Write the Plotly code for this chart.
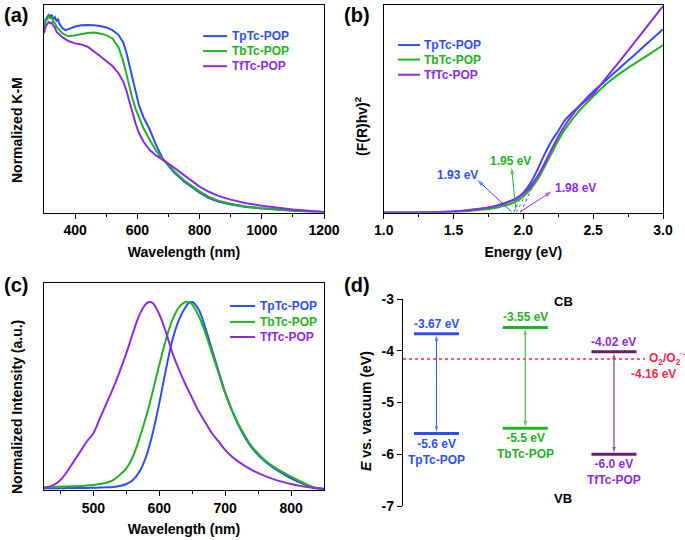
import plotly.graph_objects as go

FONT = "Liberation Sans, Arial, sans-serif"
BLUE = "#2d4ff2"
GREEN = "#22b322"
PURPLE = "#8b2be6"
DPURPLE = "#5e2070"
RED = "#ff2450"

names = ["TpTc-POP", "TbTc-POP", "TfTc-POP"]
colors = [BLUE, GREEN, PURPLE]

# ---------------- (a) Normalized K-M ----------------
wl_a = [300, 305, 310, 315, 320, 325, 330, 335, 340, 345, 350, 360, 370, 380, 400, 420, 440, 460,
        480, 500, 520, 540, 555, 565, 575, 585, 595, 605, 620, 640, 660, 680, 700, 720, 750, 780,
        800, 830, 860, 900, 950, 1000, 1050, 1100, 1150, 1200]
km_tp = [0.887, 0.928, 0.941, 0.952, 0.944, 0.953, 0.931, 0.941, 0.924, 0.931, 0.908, 0.887, 0.879,
         0.886, 0.896, 0.902, 0.904, 0.902, 0.899, 0.892, 0.879, 0.855, 0.818, 0.770, 0.706, 0.635,
         0.574, 0.518, 0.458, 0.400, 0.325, 0.265, 0.225, 0.190, 0.150, 0.116, 0.096, 0.070, 0.053,
         0.039, 0.027, 0.019, 0.013, 0.008, 0.005, 0.002]
km_tb = [0.895, 0.924, 0.931, 0.944, 0.936, 0.941, 0.920, 0.912, 0.895, 0.887, 0.876, 0.863, 0.855,
         0.850, 0.854, 0.860, 0.865, 0.867, 0.863, 0.855, 0.839, 0.796, 0.727, 0.667, 0.603, 0.545,
         0.497, 0.458, 0.405, 0.349, 0.298, 0.260, 0.228, 0.196, 0.155, 0.121, 0.102, 0.075, 0.057,
         0.042, 0.029, 0.021, 0.014, 0.010, 0.005, 0.002]
km_tf = [0.863, 0.895, 0.908, 0.918, 0.912, 0.915, 0.899, 0.892, 0.871, 0.863, 0.855, 0.844, 0.834,
         0.825, 0.815, 0.810, 0.799, 0.778, 0.754, 0.730, 0.706, 0.670, 0.630, 0.587, 0.529, 0.474,
         0.426, 0.384, 0.341, 0.301, 0.275, 0.256, 0.236, 0.214, 0.180, 0.148, 0.125, 0.100, 0.080,
         0.062, 0.045, 0.033, 0.023, 0.014, 0.008, 0.003]
ticks_a = [400, 600, 800, 1000, 1200]
minor_a = [500, 700, 900, 1100]

# ---------------- (b) Tauc plot ----------------
energy_b = [1.0, 1.2, 1.4, 1.5, 1.6, 1.7, 1.8, 1.85, 1.9, 1.95, 2.0, 2.05, 2.1, 2.15, 2.2, 2.25,
            2.3, 2.4, 2.5, 2.6, 2.7, 2.8, 2.9, 3.0]
tauc_tp = [0.0, 0.0, 0.002, 0.005, 0.010, 0.018, 0.030, 0.040, 0.053, 0.069, 0.096, 0.141, 0.205,
           0.278, 0.342, 0.393, 0.446, 0.514, 0.583, 0.642, 0.703, 0.762, 0.823, 0.883]
tauc_tb = [0.0, 0.0, 0.0, 0.003, 0.006, 0.013, 0.022, 0.030, 0.040, 0.055, 0.077, 0.112, 0.157,
           0.218, 0.283, 0.347, 0.403, 0.490, 0.559, 0.623, 0.674, 0.719, 0.762, 0.807]
tauc_tf = [0.0, 0.0, 0.002, 0.005, 0.011, 0.019, 0.032, 0.042, 0.053, 0.066, 0.090, 0.125, 0.173,
           0.234, 0.302, 0.366, 0.422, 0.510, 0.571, 0.655, 0.738, 0.823, 0.909, 0.995]
band_gaps = [1.93, 1.95, 1.98]
tangent_end_e = [2.00, 2.04, 2.07]
tangent_end_v = [0.10, 0.12, 0.13]
gap_label_e = [1.527, 1.909, 2.37]
gap_label_v = [0.181, 0.246, 0.117]
gap_arrow_tail_e = [1.916, 1.947, 1.976]
gap_arrow_tail_v = [0.003, 0.010, 0.003]
gap_arrow_tip_e = [1.671, 1.916, 2.203]
gap_arrow_tip_v = [0.157, 0.217, 0.101]
ticks_b = [1.0, 1.5, 2.0, 2.5, 3.0]
minor_b = [1.25, 1.75, 2.25, 2.75]

# ---------------- (c) PL ----------------
wl_c = [425, 440, 450, 460, 470, 480, 490, 500, 510, 520, 530, 540, 550, 560, 570, 580, 585, 590,
        600, 610, 620, 630, 640, 645, 650, 660, 670, 680, 690, 700, 710, 720, 740, 760, 780, 800,
        820, 835, 850]
pl_tp = [0.009, 0.009, 0.009, 0.010, 0.010, 0.011, 0.011, 0.012, 0.013, 0.014, 0.016, 0.021, 0.032,
         0.053, 0.098, 0.178, 0.235, 0.302, 0.462, 0.639, 0.799, 0.906, 0.973, 0.995, 1.0, 0.959,
         0.861, 0.746, 0.631, 0.519, 0.426, 0.346, 0.227, 0.153, 0.103, 0.062, 0.030, 0.012, 0.005]
pl_tb = [0.014, 0.016, 0.018, 0.019, 0.020, 0.021, 0.024, 0.027, 0.032, 0.039, 0.053, 0.080, 0.115,
         0.178, 0.275, 0.391, 0.455, 0.524, 0.666, 0.799, 0.906, 0.973, 1.0, 0.998, 0.986, 0.924,
         0.835, 0.728, 0.622, 0.515, 0.426, 0.352, 0.234, 0.160, 0.110, 0.071, 0.036, 0.014, 0.005]
pl_tf = [0.009, 0.027, 0.053, 0.098, 0.151, 0.204, 0.258, 0.302, 0.382, 0.462, 0.542, 0.631, 0.728,
         0.835, 0.933, 0.991, 1.0, 0.995, 0.935, 0.840, 0.728, 0.639, 0.560, 0.524, 0.488, 0.417,
         0.359, 0.302, 0.258, 0.213, 0.178, 0.151, 0.107, 0.075, 0.050, 0.032, 0.018, 0.011, 0.007]
ticks_c = [500, 600, 700, 800]
minor_c = [450, 550, 650, 750]

# ---------------- (d) band positions ----------------
level_pos = [1, 2, 3]
cb_levels = [-3.67, -3.55, -4.02]
vb_levels = [-5.6, -5.5, -6.0]
bar_colors = [BLUE, GREEN, DPURPLE]
label_colors = [BLUE, GREEN, PURPLE]
o2_level = -4.16
ticks_d = [-3, -4, -5, -6, -7]

fig = go.Figure()


def line(x, y, color, xa, ya, shape="linear", width=2, dash="solid"):
    fig.add_trace(go.Scatter(x=x, y=y, mode="lines", xaxis=xa, yaxis=ya, showlegend=False,
                             hoverinfo="skip",
                             line=dict(color=color, width=width, shape=shape, dash=dash)))


def arrow(x, y, color, xa, ya, head=7):
    # line from first to last point with an arrowhead at the last point
    fig.add_trace(go.Scatter(x=x, y=y, mode="lines+markers", xaxis=xa, yaxis=ya,
                             showlegend=False, hoverinfo="skip", cliponaxis=False,
                             line=dict(color=color, width=1),
                             marker=dict(symbol="arrow", angleref="previous",
                                         size=[0] * (len(x) - 1) + [head], color=color,
                                         line=dict(width=0))))


for ys, c in zip([km_tp, km_tb, km_tf], colors):
    line(wl_a, ys, c, "x", "y")
for eg, te, tv, c in zip(band_gaps, tangent_end_e, tangent_end_v, colors):
    line([eg, te], [0, tv], c, "x2", "y2", width=1, dash="dot")
for ys, c in zip([tauc_tp, tauc_tb, tauc_tf], colors):
    line(energy_b, ys, c, "x2", "y2", shape="spline")
for te, tv, he, hv, c in zip(gap_arrow_tail_e, gap_arrow_tail_v, gap_arrow_tip_e,
                             gap_arrow_tip_v, colors):
    arrow([te, he], [tv, hv], c, "x2", "y2", head=7)
for ys, c in zip([pl_tp, pl_tb, pl_tf], colors):
    line(wl_c, ys, c, "x3", "y3", shape="spline")

half_w = 0.254
for p, cb, vb, c in zip(level_pos, cb_levels, vb_levels, bar_colors):
    line([p - half_w, p + half_w], [cb, cb], c, "x4", "y4", width=3)
    line([p - half_w, p + half_w], [vb, vb], c, "x4", "y4", width=3)
    mid = (cb + vb) / 2
    arrow([p, p], [mid, cb - 0.03], c, "x4", "y4", head=6)
    arrow([p, p], [mid, vb + 0.03], c, "x4", "y4", head=6)

xd_range = [0.623, 3.80]
line([xd_range[0], 3.35], [o2_level, o2_level], RED, "x4", "y4", width=1.5, dash="dot")

tickfont = dict(family=FONT, size=14, color="black", weight="bold")
titlefont = dict(family=FONT, size=14, color="black", weight="bold")
box = dict(showline=True, linecolor="black", linewidth=1.3, mirror=True, showgrid=False,
           zeroline=False)


def xax(domain, rng, tv, mv, title, anchor, fmt="{:d}"):
    return dict(domain=domain, range=rng, tickmode="array", tickvals=tv,
                ticktext=[fmt.format(v) for v in tv], ticks="outside",
                ticklen=5, tickwidth=1.3, tickcolor="black", tickfont=tickfont, anchor=anchor,
                minor=dict(tickmode="array", tickvals=mv, ticks="outside", ticklen=3,
                           tickwidth=1.3, tickcolor="black"),
                title=dict(text=title, font=titlefont, standoff=9), automargin=False, **box)


def yax(domain, rng, anchor):
    return dict(domain=domain, range=rng, showticklabels=False, ticks="", anchor=anchor,
                automargin=False, **box)


W, H = 685, 540
xa_dom = [44 / W, 324 / W]
xb_dom = [383.7 / W, 663 / W]
top_dom = [1 - 212.5 / H, 1 - 5 / H]
xc_dom = [44 / W, 324 / W]
yc_dom = [1 - 490 / H, 1 - 283 / H]
xd_dom = [403 / W, 1.0]
yd_dom = [1 - 506 / H, 1 - 299 / H]

fig.update_layout(
    width=W, height=H, margin=dict(l=0, r=0, t=0, b=0),
    paper_bgcolor="white", plot_bgcolor="white",
    font=dict(family=FONT, color="black"),
    xaxis=xax(xa_dom, [300, 1200], ticks_a, minor_a, "Wavelength (nm)", "y"),
    yaxis=yax(top_dom, [0, 1.0], "x"),
    xaxis2=xax(xb_dom, [1.0, 3.0], ticks_b, minor_b, "Energy (eV)", "y2", fmt="{:.1f}"),
    yaxis2=yax(top_dom, [0, 1.0], "x2"),
    xaxis3=xax(xc_dom, [425, 850], ticks_c, minor_c, "Wavelength (nm)", "y3"),
    yaxis3=yax(yc_dom, [0, 1.101], "x3"),
    xaxis4=dict(domain=xd_dom, range=xd_range, visible=False, anchor="y4"),
    yaxis4=dict(domain=yd_dom, range=[-7, -3], anchor="x4", showline=True, linecolor="black",
                linewidth=1.3, mirror=False, showgrid=False, zeroline=False, ticks="outside",
                ticklen=5, tickwidth=1.3, tickcolor="black", tickmode="array",
                tickvals=ticks_d, ticktext=[f"{v:d}" for v in ticks_d], tickfont=tickfont,
                automargin=False),
)

ann = []


def txt(x, y, text, size=12, color="black", xref="paper", yref="paper", **kw):
    kw.setdefault("xanchor", "center")
    kw.setdefault("yanchor", "middle")
    ann.append(dict(x=x, y=y, xref=xref, yref=yref, text=text, showarrow=False,
                    font=dict(family=FONT, size=size, color=color, weight="bold"), **kw))


# panel labels
for lbl, px, py in [("(a)", 2, 2), ("(b)", 342, 2), ("(c)", 2, 272), ("(d)", 342, 272)]:
    txt(px / W, 1 - py / H, lbl, size=20, xanchor="left", yanchor="top")

# y titles
txt(17 / W, 1 - 130 / H, "Normalized K-M", size=14, textangle=-90)
txt(361 / W, 1 - 126 / H, "(F(R)hv)<sup>2</sup>", size=14, textangle=-90)
txt(17 / W, 1 - 407 / H, "Normalized Intensity (a.u.)", size=14, textangle=-90)
txt(366 / W, 1 - 411 / H, "<i>E</i> vs. vacuum (eV)", size=14, textangle=-90)


# legends
def legend(xr, yr, x0, x1, ys, tx):
    for n, c, yy in zip(names, colors, ys):
        fig.add_shape(type="line", xref=xr, yref=yr, x0=x0, x1=x1, y0=yy, y1=yy,
                      line=dict(color=c, width=2))
        txt(tx, yy, n, size=12, color=c, xref=xr, yref=yr, xanchor="left", yanchor="middle")


legend("x domain", "y domain", 0.568, 0.654, [0.850, 0.778, 0.705], 0.664)
legend("x2 domain", "y2 domain", 0.051, 0.130, [0.807, 0.737, 0.664], 0.137)
legend("x3 domain", "y3 domain", 0.664, 0.754, [0.889, 0.812, 0.739], 0.764)

# (b) band gap labels
for eg, le, lv, c in zip(band_gaps, gap_label_e, gap_label_v, colors):
    txt(le, lv, f"{eg:.2f} eV", size=12, color=c, xref="x2", yref="y2")

# (d) labels
for p, cb, vb, n, lc in zip(level_pos, cb_levels, vb_levels, names, label_colors):
    txt(p, cb, f"{cb:.2f} eV", size=12, color=lc, xref="x4", yref="y4", yanchor="bottom",
        yshift=1)
    txt(p, vb, f"{vb:.1f} eV<br>{n}", size=12, color=lc, xref="x4", yref="y4", yanchor="top",
        yshift=-1)

txt(3.37, o2_level, "O<sub>2</sub>/O<sub>2</sub><sup>·-</sup>", size=12, color=RED,
    xref="x4", yref="y4", xanchor="left", yanchor="middle", yshift=1)
txt(3.45, o2_level, f"{o2_level:.2f} eV", size=12, color=RED, xref="x4", yref="y4",
    yshift=-15)
txt(2.43, -3.05, "CB", size=13, xref="x4", yref="y4")
txt(2.43, -6.85, "VB", size=13, xref="x4", yref="y4")

fig.update_layout(annotations=ann)
fig.write_html("out.html", config={"displayModeBar": False},
               post_script="document.body.style.margin='0px';")
